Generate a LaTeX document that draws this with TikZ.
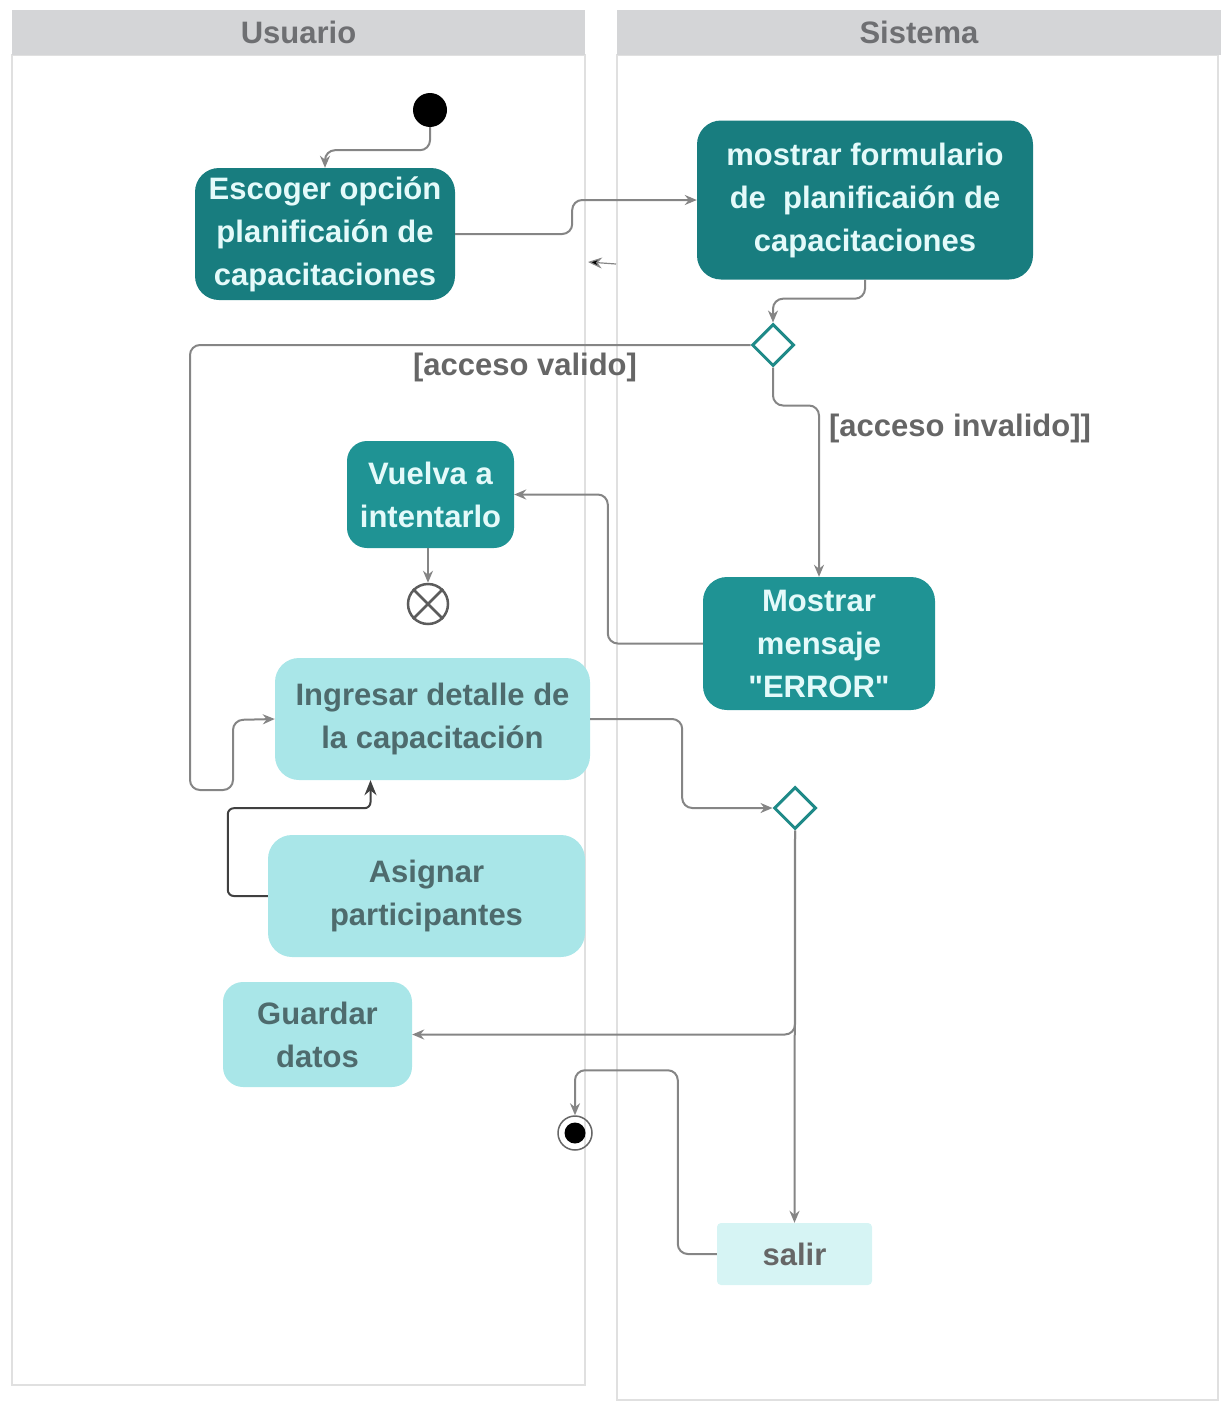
\documentclass[tikz,border=0pt]{standalone}
\usepackage{fontspec}
\setmainfont{Liberation Sans}
\usetikzlibrary{arrows.meta,shapes.geometric,calc}
\definecolor{lanegray}{HTML}{D4D5D7}
\definecolor{lanetext}{HTML}{6E6F72}
\definecolor{laneline}{HTML}{E0E0E0}
\definecolor{tealdark}{HTML}{187D7F}
\definecolor{tealmid}{HTML}{1F9394}
\definecolor{tealtext}{HTML}{E4FAFA}
\definecolor{cyanlight}{HTML}{A9E6E8}
\definecolor{cyanpale}{HTML}{D6F4F4}
\definecolor{slatetext}{HTML}{4E6B6D}
\definecolor{flowgray}{HTML}{858585}
\definecolor{labelgray}{HTML}{666666}
\definecolor{gateteal}{HTML}{1F8A88}
\begin{document}
\begin{tikzpicture}[x=1pt,y=-1pt,
  every node/.style={font=\bfseries\fontsize{31}{43}\selectfont},
  action/.style={rounded corners=24pt,align=center,inner sep=0pt},
  darkact/.style={action,fill=tealdark,text=tealtext},
  midact/.style={action,fill=tealmid,text=tealtext},
  lightact/.style={action,fill=cyanlight,text=slatetext},
  gate/.style={diamond,draw=gateteal,line width=3pt,fill=white,minimum width=42pt,minimum height=42pt,inner sep=0pt},
  flow/.style={draw=flowgray,line width=2pt,rounded corners=10pt,-{Stealth[length=12pt,width=10pt]}},
  guard/.style={text=labelgray},
  lanehead/.style={fill=lanegray,text=lanetext,inner sep=0pt}
]
\useasboundingbox (0,0) rectangle (1221,1405);

% swimlanes
\draw[laneline,line width=1.5pt] (12,55) rectangle (585,1385);
\draw[laneline,line width=1.5pt] (617,55) rectangle (1218,1400);
\node[lanehead,minimum width=573pt,minimum height=45pt] (laneU) at (298.5,32.5) {Usuario};
\node[lanehead,minimum width=604pt,minimum height=45pt] (laneS) at (919,32.5) {Sistema};

% start / end markers
\node[circle,fill=black,minimum size=34pt,inner sep=0pt] (start) at (430,110) {};
\node[circle,draw=labelgray,line width=1.5pt,minimum size=34pt,inner sep=0pt] (final) at (575,1133) {};
\node[circle,fill=black,minimum size=21pt,inner sep=0pt] (finaldot) at (575,1133) {};
\node[circle,draw=labelgray!90!black,line width=2.5pt,minimum size=40pt,inner sep=0pt] (stop) at (428,604) {};
\draw[labelgray!90!black,line width=2.5pt] (stop.north west) -- (stop.south east);
\draw[labelgray!90!black,line width=2.5pt] (stop.north east) -- (stop.south west);

% actions
\node[darkact,minimum width=260pt,minimum height=132pt] (escoger) at (325,234)
  {Escoger opción\\planificaión de\\capacitaciones};
\node[darkact,minimum width=336pt,minimum height=159pt] (mostrar) at (865,200)
  {mostrar formulario\\de\ \ planificaión de\\capacitaciones};
\node[midact,rounded corners=20pt,minimum width=167pt,minimum height=107pt] (vuelva) at (430.5,494.5)
  {Vuelva a\\intentarlo};
\node[midact,minimum width=232pt,minimum height=133pt] (error) at (819,643.5)
  {Mostrar\\mensaje\\\textquotedbl ERROR\textquotedbl};
\node[lightact,minimum width=315pt,minimum height=122pt] (ingresar) at (432.5,719)
  {Ingresar detalle de\\la capacitación};
\node[lightact,minimum width=317pt,minimum height=122pt] (asignar) at (426.5,896)
  {Asignar\\participantes};
\node[lightact,rounded corners=20pt,minimum width=189pt,minimum height=105pt] (guardar) at (317.5,1034.5)
  {Guardar\\datos};
\node[action,rounded corners=4pt,fill=cyanpale,text=labelgray,minimum width=155pt,minimum height=62pt] (salir) at (794.5,1254)
  {salir};

% decisions
\node[gate] (d1) at (773,345) {};
\node[gate] (d2) at (795,808) {};

% guards
\node[guard] (gvalid) at (525,367) {[acceso valido]};
\node[guard] (ginvalid) at (960,428) {[acceso invalido]]};

% control flows
\draw[flow] (start.south) -- ++(0,23) -| (escoger.north);
\draw[flow] (escoger.east) -- ++(117,0) |- (mostrar.west);
\draw[flow] (mostrar.south) -- ++(0,19) -| (d1.north);
\draw[flow] (d1.west) -- (190,345) -- (190,790) -- (233,790) -- (233,720) -- (ingresar.west);
\draw[flow] (d1.south) -- ++(0,38) -| (error.north);
\draw[flow] (error.west) -- ++(-95,0) |- (vuelva.east);
\draw[flow] (stop.north |- vuelva.south) -- (stop.north);
\draw[flow] (ingresar.east) -- ++(92,0) |- (d2.west);
\draw[flow,-{Stealth[length=15pt,width=12pt]},draw=black!75,rounded corners=6pt]
  (asignar.west) -- ++(-40,0) |- ($(ingresar.south)+(-62,28)$) -- ($(ingresar.south)+(-62,0)$);
\draw[flow] (d2.south) -- (salir.north);
\draw[flow] (d2.south) |- (guardar.east);
\draw[flow] (salir.west) -- ++(-39,0) |- ($(final.north)+(0,-45)$) -- (final.north);

% stray return tip between the lanes
\coordinate (stub) at (616,264);
\draw[flowgray,line width=1.2pt,-{Stealth[length=14pt,width=11pt,fill=black]}] (stub) -- ++(-28,-2);
\end{tikzpicture}
\end{document}
